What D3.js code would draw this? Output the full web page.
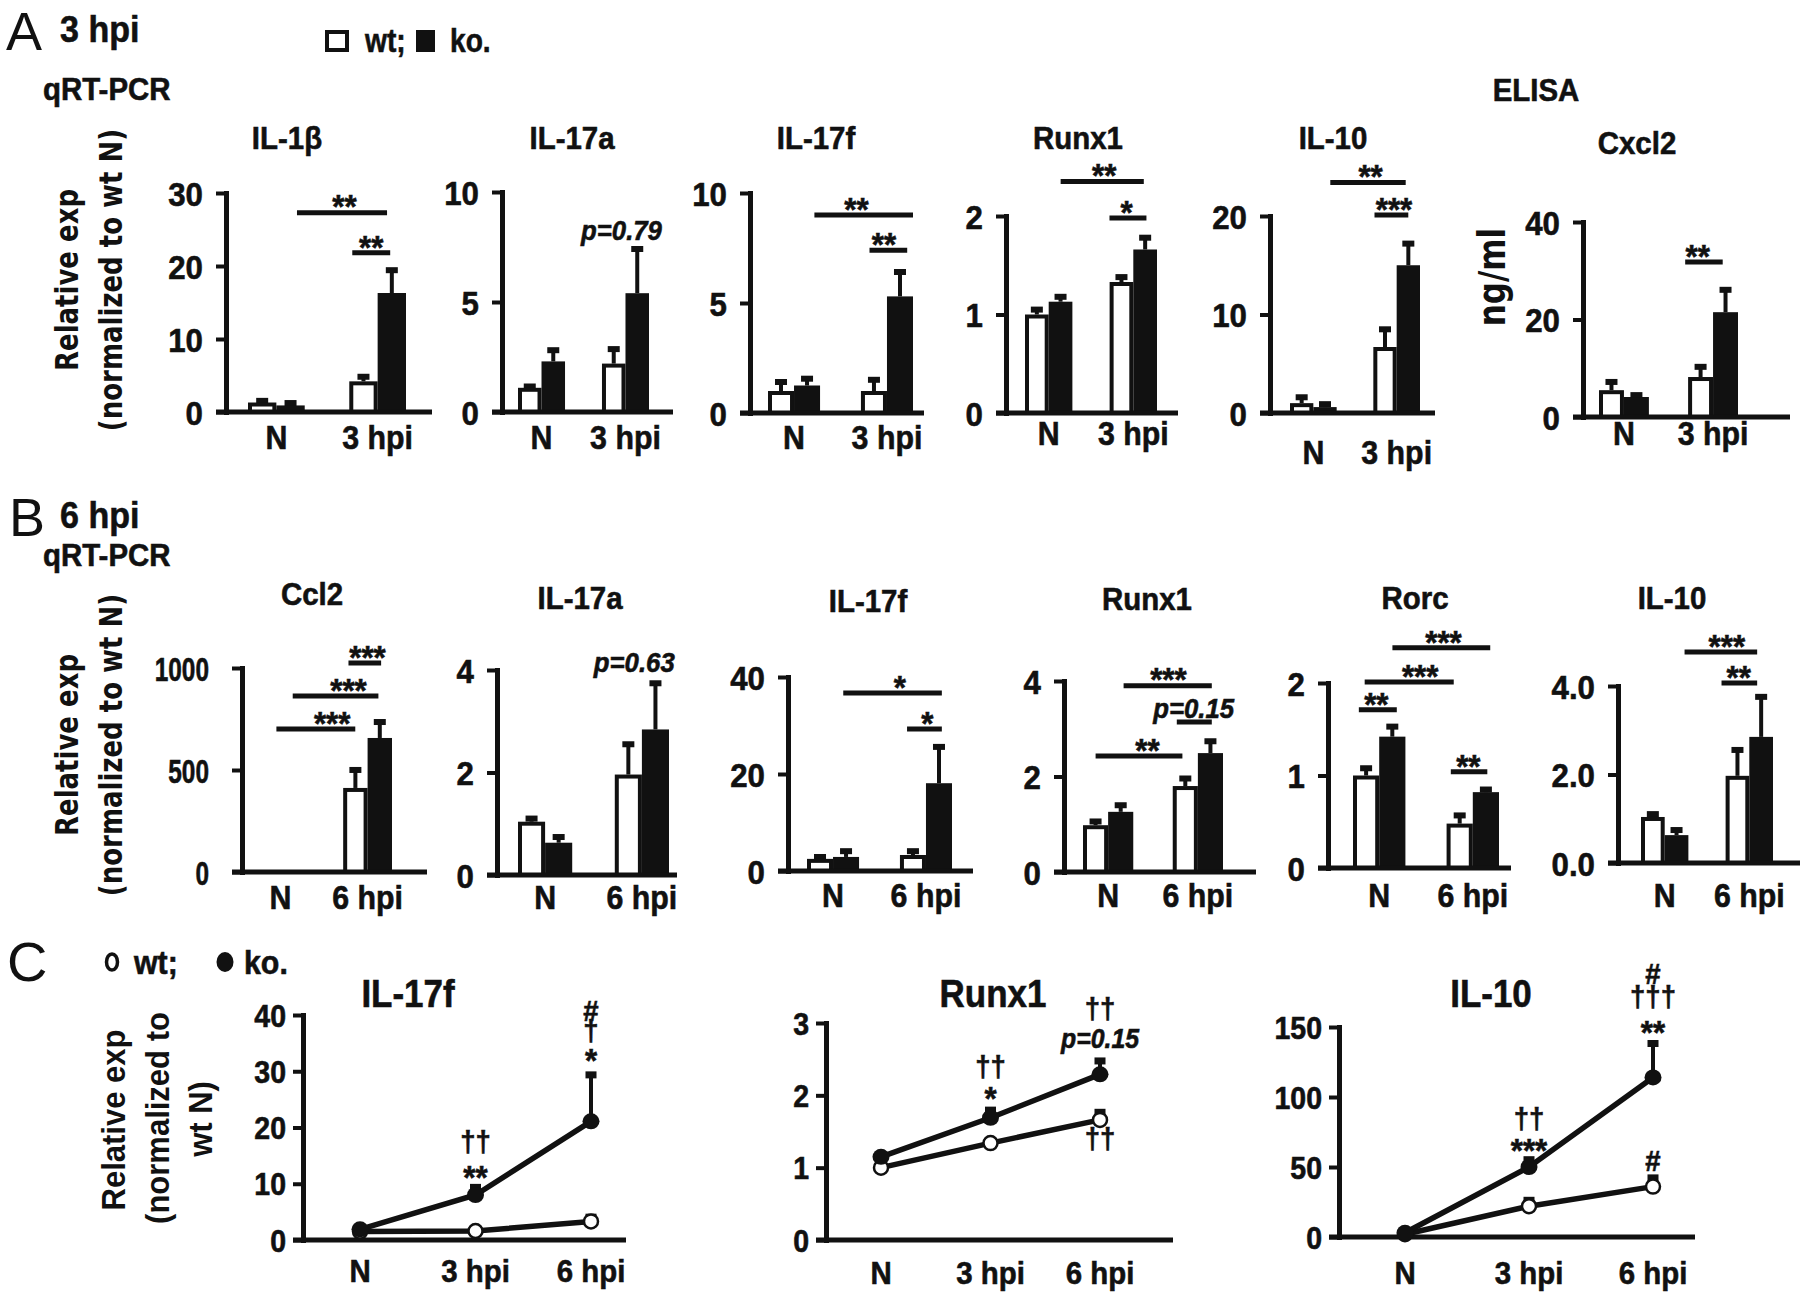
<!DOCTYPE html>
<html><head><meta charset="utf-8">
<script src="https://cdn.jsdelivr.net/npm/d3@7"></script>
<style>body{margin:0;background:#fff}svg{display:block}</style>
</head><body><svg id="fig" width="1800" height="1296"></svg>
<script>
// ================= DATA =================
const groupsA = ["N", "3 hpi"];
const groupsB = ["N", "6 hpi"];
const timesC = ["N", "3 hpi", "6 hpi"];
const seriesNames = ["wt", "ko"];

const titlesA = ["IL-1β", "IL-17a", "IL-17f", "Runx1", "IL-10", "Cxcl2"];
const titlesB = ["Ccl2", "IL-17a", "IL-17f", "Runx1", "Rorc", "IL-10"];
const titlesC = ["IL-17f", "Runx1", "IL-10"];

// Panel A (3 hpi) : mean and SEM, order = groupsA
const aIL1bWt = [1.3, 4.2],  aIL1bWtErr = [0.5, 0.9],  aIL1bKo = [0.9, 16.3], aIL1bKoErr = [0.6, 3.4];
const aIL17aWt = [1.1, 2.2], aIL17aWtErr = [0.15, 0.75], aIL17aKo = [2.3, 5.4], aIL17aKoErr = [0.6, 2.1];
const aIL17fWt = [1.0, 1.0], aIL17fWtErr = [0.5, 0.6], aIL17fKo = [1.25, 5.3], aIL17fKoErr = [0.4, 1.2];
const aRunx1Wt = [1.0, 1.33], aRunx1WtErr = [0.07, 0.07], aRunx1Ko = [1.13, 1.66], aRunx1KoErr = [0.07, 0.14];
const aIL10Wt = [1.0, 6.7], aIL10WtErr = [0.8, 2.0], aIL10Ko = [0.6, 15.0], aIL10KoErr = [0.5, 2.4];
const aCxcl2Wt = [5.5, 8.2], aCxcl2WtErr = [2.1, 2.5], aCxcl2Ko = [4.1, 21.5], aCxcl2KoErr = [0.8, 5.0];

// Panel B (6 hpi)
const bCcl2Wt = [1, 412], bCcl2WtErr = [0, 98], bCcl2Ko = [1, 657], bCcl2KoErr = [0, 88];
const bIL17aWt = [1.04, 1.96], bIL17aWtErr = [0.1, 0.63], bIL17aKo = [0.63, 2.84], bIL17aKoErr = [0.15, 0.94];
const bIL17fWt = [2.5, 3.3], bIL17fWtErr = [0.8, 1.2], bIL17fKo = [2.9, 18.1], bIL17fKoErr = [1.6, 7.9];
const bRunx1Wt = [0.98, 1.80], bRunx1WtErr = [0.12, 0.2], bRunx1Ko = [1.26, 2.49], bRunx1KoErr = [0.18, 0.29];
const bRorcWt = [1.0, 0.48], bRorcWtErr = [0.1, 0.11], bRorcKo = [1.42, 0.82], bRorcKoErr = [0.13, 0.05];
const bIL10Wt = [1.04, 1.97], bIL10WtErr = [0.11, 0.63], bIL10Ko = [0.63, 2.85], bIL10KoErr = [0.16, 0.95];

// Panel C (time course), order = timesC
const cIL17fWt = [1.5, 1.6, 3.3], cIL17fWtErr = [0.3, 0.3, 1.2], cIL17fKo = [1.9, 8.0, 21.1], cIL17fKoErr = [0.5, 1.8, 8.7];
const cRunx1Wt = [1.0, 1.34, 1.66], cRunx1WtErr = [0.02, 0.03, 0.14], cRunx1Ko = [1.15, 1.69, 2.29], cRunx1KoErr = [0.04, 0.14, 0.22];
const cIL10Wt = [2, 22, 36], cIL10WtErr = [1, 6, 8], cIL10Ko = [3, 50, 114], cIL10KoErr = [1, 7, 26];

// Tick labels
const ticksA1 = [0, 10, 20, 30], ticksA2 = [0, 5, 10], ticksA3 = [0, 5, 10], ticksA4 = [0, 1, 2], ticksA5 = [0, 10, 20], ticksA6 = [0, 20, 40];
const ticksB1 = [0, 500, 1000], ticksB2 = [0, 2, 4], ticksB3 = [0, 20, 40], ticksB4 = [0, 2, 4], ticksB5 = [0, 1, 2], ticksB6 = [0, 2, 4];
const ticksC1 = [0, 10, 20, 30, 40], ticksC2 = [0, 1, 2, 3], ticksC3 = [0, 50, 100, 150];

// ================= FONTS =================
function hasFont(name) {
  const c = document.createElement('canvas').getContext('2d');
  const s = 'IL-17f 0123456789 hpi Wmw';
  c.font = 'bold 40px monospace'; const w1 = c.measureText(s).width;
  c.font = `bold 40px "${name}", monospace`; const w2 = c.measureText(s).width;
  return Math.abs(w1 - w2) > 0.5;
}
const NARROW = hasFont('Liberation Sans Narrow');
const FN = NARROW ? '"Liberation Sans Narrow", "Arial Narrow", sans-serif' : '"Liberation Sans", Arial, sans-serif';
const SX = NARROW ? 1.12 : 0.92;
const FW = '"DejaVu Sans", Verdana, sans-serif';
const FA = '"Liberation Sans", Arial, sans-serif';
const INK = '#111';
const HEAVY = 0.6; // extra stroke to mimic the heavy print weight

const svg = d3.select('#fig');

function txt(parent, x, y, s, o = {}) {
  const fs = o.fs || 32;
  const sx = o.sx !== undefined ? o.sx : SX;
  const t = parent.append('text')
    .attr('transform', `translate(${x},${y}) scale(${sx},1)`)
    .attr('text-anchor', o.anchor || 'middle')
    .attr('font-family', o.ff || FN)
    .attr('font-weight', o.fw || 'bold')
    .attr('font-size', fs)
    .attr('fill', INK)
    .text(s);
  if ((o.fw || 'bold') === 'bold') t.attr('stroke', INK).attr('stroke-width', HEAVY);
  if (o.italic) t.attr('font-style', 'italic');
  return t;
}
// label center -> baseline offset (em)
function cOff(label) { return /^\*+$/.test(label) ? 0.55 : (/†/.test(label) ? 0.30 : 0.36); }

function yAxis(g, c, y, fs, pad, k) {
  const ax = d3.axisLeft(y).tickValues(c.ticks).tickSizeInner(10).tickSizeOuter(0).tickPadding(0)
    .tickFormat(c.fmt || d3.format('d'));
  const a = g.append('g').attr('transform', `translate(${c.axisX},0)`).call(ax);
  a.attr('font-size', null).attr('font-family', null);
  a.select('.domain').attr('stroke', INK).attr('stroke-width', 5).attr('stroke-linecap', 'square');
  a.selectAll('.tick line').attr('stroke', INK).attr('stroke-width', 4);
  a.selectAll('.tick text').attr('x', null).attr('dy', null)
    .attr('transform', `translate(${-pad},${0.36 * fs}) scale(${SX * k},1)`)
    .attr('font-family', FN).attr('font-weight', 'bold').attr('font-size', fs)
    .attr('fill', INK).attr('stroke', INK).attr('stroke-width', HEAVY).attr('text-anchor', 'end');
  g.append('line').attr('x1', c.axisX - 10).attr('x2', c.xEnd).attr('y1', y(0)).attr('y2', y(0))
    .attr('stroke', INK).attr('stroke-width', 5);
}

// ================= BAR CHART =================
function drawBarChart(c) {
  const g = svg.append('g');
  const max = c.ticks[c.ticks.length - 1];
  const y = d3.scaleLinear().domain([0, max]).range([c.yZero, c.yTop]);
  const xg = d3.scaleBand().domain(c.groups).range(c.bars).paddingInner(0.44).paddingOuter(0);
  const xs = d3.scaleBand().domain(seriesNames).range([0, xg.bandwidth()]).padding(0);
  const u = d3.scaleLinear().domain([0, 1]).range(c.bars);

  const rows = [];
  c.groups.forEach((gn, i) => {
    rows.push({ g: gn, s: 'wt', v: c.wt[i], e: c.wtErr[i] });
    rows.push({ g: gn, s: 'ko', v: c.ko[i], e: c.koErr[i] });
  });
  rows.forEach(r => {
    const x0 = xg(r.g) + xs(r.s), w = xs.bandwidth(), cx = x0 + w / 2;
    if (r.e > 0) {
      g.append('line').attr('x1', cx).attr('x2', cx).attr('y1', y(r.v)).attr('y2', y(r.v + r.e))
        .attr('stroke', INK).attr('stroke-width', 4);
      g.append('rect').attr('x', cx - 6).attr('y', y(r.v + r.e) - 1).attr('width', 12).attr('height', 6).attr('fill', INK);
    }
    if (r.s === 'wt') {
      g.append('rect').attr('x', x0 + 2).attr('y', y(r.v) + 2).attr('width', w - 4)
        .attr('height', Math.max(0, y(0) - y(r.v) - 2)).attr('fill', '#fff').attr('stroke', INK).attr('stroke-width', 4);
    } else {
      g.append('rect').attr('x', x0).attr('y', y(r.v)).attr('width', w).attr('height', y(0) - y(r.v)).attr('fill', INK);
    }
  });
  yAxis(g, c, y, 34, c.tickPad || 23, c.tickK || 1);
  c.groups.forEach(gn => txt(g, xg(gn) + xg.bandwidth() / 2, c.labelY + 0.36 * 33, gn, { fs: 33 }));
  txt(g, c.title[0], c.title[1] + 0.36 * 32, c.name, { fs: 32 });
  (c.sig || []).forEach(s => {
    const [u0, u1, v, label, tu] = s;
    const ly = y(v);
    g.append('line').attr('x1', u(u0)).attr('x2', u(u1)).attr('y1', ly).attr('y2', ly)
      .attr('stroke', INK).attr('stroke-width', 5);
    const isP = /^p=/.test(label);
    const fs = isP ? 28 : 34;
    const cy = ly - (isP ? 14 : 13);
    txt(g, u(tu), cy + cOff(label) * fs, label, { fs, italic: isP });
  });
  (c.pnote || []).forEach(p => {
    const [tu, v, label] = p;
    txt(g, u(tu), y(v) + 0.36 * 28, label, { fs: 28, italic: true });
  });
}

// ================= LINE CHART =================
function drawLineChart(c) {
  const g = svg.append('g');
  const max = c.ticks[c.ticks.length - 1];
  const y = d3.scaleLinear().domain([0, max]).range([c.yZero, c.yTop]);
  const x = d3.scalePoint().domain(timesC).range(c.pts);
  yAxis(g, c, y, 31, 17, 1);
  const line = d3.line().x((d, i) => x(timesC[i])).y(d => y(d));
  [c.wt, c.ko].forEach(vals => {
    g.append('path').datum(vals).attr('d', line).attr('fill', 'none').attr('stroke', INK).attr('stroke-width', 5.5);
  });
  [[c.wt, c.wtErr], [c.ko, c.koErr]].forEach(([vals, errs]) => {
    vals.forEach((v, i) => {
      const px = x(timesC[i]);
      if (errs[i] > 0) {
        g.append('line').attr('x1', px).attr('x2', px).attr('y1', y(v)).attr('y2', y(v + errs[i]))
          .attr('stroke', INK).attr('stroke-width', 4);
        g.append('rect').attr('x', px - 5.5).attr('y', y(v + errs[i]) - 1).attr('width', 11).attr('height', 7).attr('fill', INK);
      }
    });
  });
  c.wt.forEach((v, i) => g.append('ellipse').attr('cx', x(timesC[i])).attr('cy', y(v)).attr('rx', 7).attr('ry', 7)
    .attr('fill', '#fff').attr('stroke', INK).attr('stroke-width', 2.5));
  c.ko.forEach((v, i) => g.append('ellipse').attr('cx', x(timesC[i])).attr('cy', y(v)).attr('rx', 8.5).attr('ry', 8)
    .attr('fill', INK));
  timesC.forEach(t => txt(g, x(t), c.labelY + 0.36 * 32, t, { fs: 32 }));
  txt(g, c.title[0], c.title[1] + 0.36 * 38, c.name, { fs: 38 });
  // stacked annotations: one text element per stack, one line (tspan) per mark
  (c.notes || []).forEach(stack => {
    const [ti, lines] = stack;
    const t = g.append('text').attr('transform', `translate(${x(timesC[ti])},0) scale(${SX},1)`)
      .attr('text-anchor', 'middle').attr('font-family', FN).attr('font-weight', 'bold')
      .attr('fill', INK).attr('stroke', INK).attr('stroke-width', HEAVY);
    lines.forEach(([v, label]) => {
      const isP = /^p=/.test(label);
      const fs = isP ? 27 : (/\*/.test(label) ? 34 : 30);
      const ts = t.append('tspan').attr('x', 0).attr('y', y(v) + cOff(label) * fs).attr('font-size', fs).text(label);
      if (isP) ts.attr('font-style', 'italic');
    });
  });
}

// ================= LAYOUT =================
const chartsA = [
  { name: titlesA[0], groups: groupsA, wt: aIL1bWt, wtErr: aIL1bWtErr, ko: aIL1bKo, koErr: aIL1bKoErr, ticks: ticksA1,
    axisX: 226, yTop: 193, yZero: 412, xEnd: 432, bars: [248, 406], title: [287, 137], labelY: 437,
    sig: [[0.31, 0.88, 27.3, "**", 0.61], [0.66, 0.90, 21.8, "**", 0.78]] },
  { name: titlesA[1], groups: groupsA, wt: aIL17aWt, wtErr: aIL17aWtErr, ko: aIL17aKo, koErr: aIL17aKoErr, ticks: ticksA2,
    axisX: 502, yTop: 192, yZero: 412, xEnd: 673, bars: [518, 649], title: [572, 137], labelY: 437,
    pnote: [[0.79, 8.27, "p=0.79"]] },
  { name: titlesA[2], groups: groupsA, wt: aIL17fWt, wtErr: aIL17fWtErr, ko: aIL17fKo, koErr: aIL17fKoErr, ticks: ticksA3,
    axisX: 750, yTop: 193, yZero: 413, xEnd: 924, bars: [768, 913], title: [816, 137], labelY: 437,
    sig: [[0.32, 1.0, 9.0, "**", 0.61], [0.70, 0.96, 7.4, "**", 0.80]] },
  { name: titlesA[3], groups: groupsA, wt: aRunx1Wt, wtErr: aRunx1WtErr, ko: aRunx1Ko, koErr: aRunx1KoErr, ticks: ticksA4,
    axisX: 1006, yTop: 216, yZero: 413, xEnd: 1178, bars: [1025, 1157], title: [1078, 137], labelY: 433,
    sig: [[0.27, 0.90, 2.35, "**", 0.60], [0.64, 0.92, 1.98, "*", 0.77]] },
  { name: titlesA[4], groups: groupsA, wt: aIL10Wt, wtErr: aIL10WtErr, ko: aIL10Ko, koErr: aIL10KoErr, ticks: ticksA5,
    axisX: 1270, yTop: 216, yZero: 413, xEnd: 1435, bars: [1290, 1420], title: [1333, 137], labelY: 452,
    sig: [[0.31, 0.89, 23.4, "**", 0.62], [0.65, 0.91, 20.1, "***", 0.80]] },
  { name: titlesA[5], groups: groupsA, wt: aCxcl2Wt, wtErr: aCxcl2WtErr, ko: aCxcl2Ko, koErr: aCxcl2KoErr, ticks: ticksA6,
    axisX: 1583, yTop: 222, yZero: 417, xEnd: 1790, bars: [1599, 1738], title: [1637, 142], labelY: 433,
    sig: [[0.62, 0.89, 31.8, "**", 0.71]] }
];
const chartsB = [
  { name: titlesB[0], groups: groupsB, wt: bCcl2Wt, wtErr: bCcl2WtErr, ko: bCcl2Ko, koErr: bCcl2KoErr, ticks: ticksB1,
    axisX: 242, yTop: 668, yZero: 872, xEnd: 427, bars: [256, 392], title: [312, 593], labelY: 897, tickPad: 33, tickK: 0.78,
    sig: [[0.68, 0.92, 1025, "***", 0.82], [0.27, 0.90, 863, "***", 0.68], [0.15, 0.73, 701, "***", 0.56]] },
  { name: titlesB[1], groups: groupsB, wt: bIL17aWt, wtErr: bIL17aWtErr, ko: bIL17aKo, koErr: bIL17aKoErr, ticks: ticksB2,
    axisX: 497, yTop: 670, yZero: 875, xEnd: 677, bars: [518, 669], title: [580, 597], labelY: 897,
    pnote: [[0.77, 4.16, "p=0.63"]] },
  { name: titlesB[2], groups: groupsB, wt: bIL17fWt, wtErr: bIL17fWtErr, ko: bIL17fKo, koErr: bIL17fKoErr, ticks: ticksB3,
    axisX: 788, yTop: 677, yZero: 871, xEnd: 973, bars: [807, 952], title: [868, 600], labelY: 895,
    sig: [[0.25, 0.93, 36.7, "*", 0.64], [0.69, 0.93, 29.3, "*", 0.83]] },
  { name: titlesB[3], groups: groupsB, wt: bRunx1Wt, wtErr: bRunx1WtErr, ko: bRunx1Ko, koErr: bRunx1KoErr, ticks: ticksB4,
    axisX: 1064, yTop: 681, yZero: 872, xEnd: 1256, bars: [1083, 1223], title: [1147, 598], labelY: 895,
    sig: [[0.29, 0.92, 3.9, "***", 0.61], [0.67, 0.92, 3.14, "p=0.15", 0.79], [0.09, 0.71, 2.43, "**", 0.46]] },
  { name: titlesB[4], groups: groupsB, wt: bRorcWt, wtErr: bRorcWtErr, ko: bRorcKo, koErr: bRorcKoErr, ticks: ticksB5,
    axisX: 1328, yTop: 683, yZero: 868, xEnd: 1511, bars: [1353, 1499], title: [1415, 597], labelY: 895,
    sig: [[0.27, 0.94, 2.38, "***", 0.62], [0.08, 0.69, 2.01, "***", 0.46], [0.04, 0.30, 1.71, "**", 0.16], [0.67, 0.92, 1.04, "**", 0.79]] },
  { name: titlesB[5], groups: groupsB, wt: bIL10Wt, wtErr: bIL10WtErr, ko: bIL10Ko, koErr: bIL10KoErr, ticks: ticksB6, fmt: d3.format('.1f'),
    axisX: 1618, yTop: 686, yZero: 863, xEnd: 1800, bars: [1641, 1773], title: [1672, 597], labelY: 895,
    sig: [[0.33, 0.88, 4.77, "***", 0.65], [0.61, 0.88, 4.07, "**", 0.74]] }
];
const chartsC = [
  { name: titlesC[0], wt: cIL17fWt, wtErr: cIL17fWtErr, ko: cIL17fKo, koErr: cIL17fKoErr, ticks: ticksC1,
    axisX: 303, yTop: 1015, yZero: 1240, xEnd: 626, pts: [360, 591], title: [408, 993], labelY: 1270,
    notes: [[1, [[17.2, "††"], [12.4, "**"]]], [2, [[40.9, "#"], [37.0, "†"], [33.2, "*"]]]] },
  { name: titlesC[1], wt: cRunx1Wt, wtErr: cRunx1WtErr, ko: cRunx1Ko, koErr: cRunx1KoErr, ticks: ticksC2,
    axisX: 826, yTop: 1023, yZero: 1240, xEnd: 1173, pts: [881, 1100], title: [993, 993], labelY: 1272,
    notes: [[1, [[2.38, "††"], [2.05, "*"]]], [2, [[3.18, "††"], [2.79, "p=0.15"]]], [2, [[1.38, "††"]]]] },
  { name: titlesC[2], wt: cIL10Wt, wtErr: cIL10WtErr, ko: cIL10Ko, koErr: cIL10KoErr, ticks: ticksC3,
    axisX: 1339, yTop: 1027, yZero: 1237, xEnd: 1695, pts: [1405, 1653], title: [1491, 993], labelY: 1272,
    notes: [[1, [[83.6, "††"], [67.1, "***"]]], [2, [[188.6, "#"], [170.7, "†††"], [151.4, "**"]]], [2, [[55, "#"]]]] }
];

chartsA.forEach(drawBarChart);
chartsB.forEach(drawBarChart);
chartsC.forEach(drawLineChart);

// ================= PANEL TEXT =================
const ann = svg.append('g');
txt(ann, 6, 50, 'A', { fs: 54, ff: FA, fw: 'normal', anchor: 'start', sx: 1 });
txt(ann, 60, 42, '3 hpi', { fs: 37, anchor: 'start' });
txt(ann, 9, 536, 'B', { fs: 54, ff: FA, fw: 'normal', anchor: 'start', sx: 1 });
txt(ann, 60, 528, '6 hpi', { fs: 37, anchor: 'start' });
txt(ann, 7, 981, 'C', { fs: 56, ff: FA, fw: 'normal', anchor: 'start', sx: 1 });
txt(ann, 43, 100, 'qRT-PCR', { fs: 32, anchor: 'start' });
txt(ann, 43, 566, 'qRT-PCR', { fs: 32, anchor: 'start' });
txt(ann, 1536, 101, 'ELISA', { fs: 32 });

// legend A
ann.append('rect').attr('x', 327).attr('y', 32).attr('width', 20).attr('height', 18).attr('fill', '#fff').attr('stroke', INK).attr('stroke-width', 4);
txt(ann, 365, 52, 'wt;', { fs: 34, anchor: 'start', sx: SX * 0.9 });
ann.append('rect').attr('x', 416).attr('y', 30).attr('width', 19).attr('height', 22).attr('fill', INK);
txt(ann, 450, 52, 'ko.', { fs: 34, anchor: 'start', sx: SX * 0.9 });
// legend C
ann.append('ellipse').attr('cx', 112).attr('cy', 962).attr('rx', 5.5).attr('ry', 8).attr('fill', '#fff').attr('stroke', INK).attr('stroke-width', 3.5);
txt(ann, 134, 974, 'wt;', { fs: 33, anchor: 'start' });
ann.append('ellipse').attr('cx', 225).attr('cy', 962).attr('rx', 8.5).attr('ry', 10).attr('fill', INK);
txt(ann, 244, 974, 'ko.', { fs: 33, anchor: 'start' });

// y axis titles
function vlab(x, y, s, fs, ff, k) {
  ann.append('text').attr('transform', `translate(${x},${y}) scale(${k},1) rotate(-90)`).attr('text-anchor', 'middle')
    .attr('dominant-baseline', 'central').attr('font-family', ff).attr('font-weight', 'bold')
    .attr('font-size', fs).attr('fill', INK).text(s);
}
vlab(67, 280, 'Relative exp', 26, FW, 1.2);
vlab(111, 280, '(normalized to wt N)', 26, FW, 1.2);
vlab(67, 745, 'Relative exp', 26, FW, 1.2);
vlab(111, 745, '(normalized to wt N)', 26, FW, 1.2);
vlab(1492, 277, 'ng/ml', 31, FW, 1.2);
vlab(113, 1120, 'Relative exp', 31, FA, 1.1);
vlab(157, 1118, '(normalized to', 31, FA, 1.1);
vlab(200, 1119, 'wt N)', 31, FA, 1.1);
</script></body></html>
